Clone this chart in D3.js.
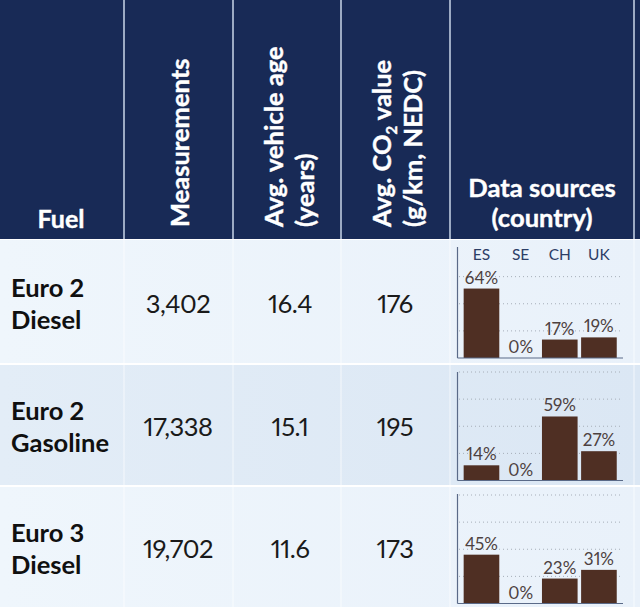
<!DOCTYPE html>
<html>
<head>
<meta charset="utf-8">
<script src="https://cdn.jsdelivr.net/npm/d3@7"></script>
<style>
  html, body { margin: 0; padding: 0; background: #fff; }
  svg { display: block; font-family: Lato, sans-serif; font-variant-numeric: proportional-nums; }
</style>
</head>
<body>
<div id="container"></div>
<script>
const fuels = [["Euro 2", "Diesel"], ["Euro 2", "Gasoline"], ["Euro 3", "Diesel"]]
const measurements = ["3,402", "17,338", "19,702"]
const vehicleAge = ["16.4", "15.1", "11.6"]
const co2Values = ["176", "195", "173"]
const countries = ["ES", "SE", "CH", "UK"]
const shares = [
    [64, 0, 17, 19],
    [14, 0, 59, 27],
    [45, 0, 23, 31]
]
const gridTicks = [25, 50, 75, 100]

const width = 640
const height = 607
const navy = "#182a56"
const bar = "#4f2f23"
const lineLight = "#c9d6e8"

const svg = d3.select("#container").append("svg")
    .attr("width", width)
    .attr("height", height)

const defs = svg.append("defs")
const rowFill = (id, c0, c1) => {
    const g = defs.append("linearGradient").attr("id", id)
        .attr("x1", 0).attr("x2", 1).attr("y1", 0).attr("y2", 0)
    g.append("stop").attr("offset", 0).attr("stop-color", c0)
    g.append("stop").attr("offset", 1).attr("stop-color", c1)
}
rowFill("rowLight", "#eff6fc", "#e9f1fa")
rowFill("rowDark", "#e3edf7", "#dbe7f4")

// header
svg.append("rect").attr("width", width).attr("height", 239).attr("fill", navy)

const rows = [
    { top: 240, bottom: 363, base: 358 },
    { top: 365, bottom: 485, base: 480.5 },
    { top: 487, bottom: 607, base: 603.5 }
]
svg.selectAll("rect.row").data(rows).enter().append("rect")
    .attr("class", "row")
    .attr("x", 0)
    .attr("y", d => d.top)
    .attr("width", width)
    .attr("height", d => d.bottom - d.top)
    .attr("fill", (d, i) => i === 1 ? "url(#rowDark)" : "url(#rowLight)")

// column separators
const colLines = [124, 233, 341, 450, 634]
svg.selectAll("line.col").data(colLines).enter().append("line")
    .attr("class", "col")
    .attr("x1", d => d).attr("x2", d => d)
    .attr("y1", 0).attr("y2", 239)
    .attr("stroke", lineLight).attr("stroke-width", 1.5)
svg.selectAll("line.colBody").data(colLines).enter().append("line")
    .attr("class", "colBody")
    .attr("x1", d => d).attr("x2", d => d)
    .attr("y1", 240).attr("y2", height)
    .attr("stroke", "#fff").attr("stroke-opacity", 0.45).attr("stroke-width", 1.5)

// header text
const head = svg.append("g").attr("fill", "#fff").attr("font-weight", 700)
    .attr("stroke", "#fff").attr("stroke-width", 0.4)
head.append("text").attr("x", 61).attr("y", 228)
    .attr("text-anchor", "middle").attr("font-size", 25).text("Fuel")
head.append("text").attr("x", 542).attr("y", 197)
    .attr("text-anchor", "middle").attr("font-size", 25.6).text("Data sources")
head.append("text").attr("x", 542).attr("y", 227)
    .attr("text-anchor", "middle").attr("font-size", 25.6).text("(country)")

const vertical = (x, y, txt) => head.append("text")
    .attr("transform", `translate(${x},${y}) rotate(-90)`)
    .attr("font-size", 25.5)
    .text(txt)
vertical(189, 227, "Measurements")
vertical(283, 227, "Avg. vehicle age")
vertical(314, 227, "(years)")
const co2 = vertical(391, 227, "Avg. CO")
co2.append("tspan").attr("font-size", 15).attr("dy", 6).text("2")
co2.append("tspan").attr("dy", -6).text(" value")
vertical(422, 227, "(g/km, NEDC)")

// body text
rows.forEach((r, i) => {
    const mid = (r.top + r.bottom) / 2
    const label = svg.append("g").attr("fill", "#101010").attr("font-weight", 700).attr("font-size", 25.5)
    label.append("text").attr("x", 11).attr("y", mid - 5).text(fuels[i][0])
    label.append("text").attr("x", 11).attr("y", mid + 27).text(fuels[i][1])

    const vals = svg.append("g").attr("fill", "#1a1a1a").attr("font-size", 25.5)
        .attr("letter-spacing", -0.5).attr("text-anchor", "middle")
    vals.append("text").attr("x", 178).attr("y", mid + 11).text(measurements[i])
    vals.append("text").attr("x", 290).attr("y", mid + 11).text(vehicleAge[i])
    vals.append("text").attr("x", 395).attr("y", mid + 11).text(co2Values[i])
})

// little bar charts
const x = d3.scaleBand().domain(countries)
    .range([461.9, 618.5])
    .paddingInner(0.09)
    .paddingOuter(0.045)

rows.forEach((r, i) => {
    const y = d3.scaleLinear().domain([0, 100]).range([r.base, r.base - 108.5])
    const g = svg.append("g")

    const ticks = i === 0 ? gridTicks.slice(0, 3) : gridTicks
    g.selectAll("line.grid").data(ticks).enter().append("line")
        .attr("class", "grid")
        .attr("x1", 459).attr("x2", 623)
        .attr("y1", d => y(d)).attr("y2", d => y(d))
        .attr("stroke", "#a6aeb8")
        .attr("stroke-width", 1)
        .attr("stroke-dasharray", "1 3")

    g.selectAll("rect").data(shares[i]).enter().append("rect")
        .attr("x", (d, j) => x(countries[j]))
        .attr("width", x.bandwidth())
        .attr("y", d => y(d))
        .attr("height", d => y(0) - y(d))
        .attr("fill", bar)

    g.selectAll("text.pct").data(shares[i]).enter().append("text")
        .attr("class", "pct")
        .attr("x", (d, j) => x(countries[j]) + x.bandwidth() / 2)
        .attr("y", d => y(d) - 5)
        .attr("text-anchor", "middle")
        .attr("font-size", 17)
        .attr("fill", "#4d4140")
        .text(d => d + "%")

    const axisColor = "#5a6a88"
    const xAxis = g.append("g").attr("transform", `translate(0,${r.base})`)
        .call(d3.axisBottom(x).tickSize(0).tickFormat(""))
    xAxis.select(".domain").attr("stroke", axisColor).attr("stroke-width", 1.2)
        .attr("d", `M457.5,0H623`)

    const yAxis = g.append("g").attr("transform", "translate(457.5,0)")
        .call(d3.axisLeft(y).tickValues([]).tickSize(0))
    yAxis.select(".domain").attr("stroke", axisColor).attr("stroke-width", 1.2)
        .attr("d", `M0,${r.top + 7}V${r.base}`)

    if (i === 0) {
        const top = g.append("g").attr("transform", "translate(0,260)")
            .call(d3.axisTop(x).tickSize(0).tickPadding(0))
        top.select(".domain").remove()
        top.selectAll("text")
            .attr("font-family", "Lato, sans-serif")
            .attr("font-size", 15.5)
            .attr("fill", "#2c3e66")
    }
})
</script>
</body>
</html>
